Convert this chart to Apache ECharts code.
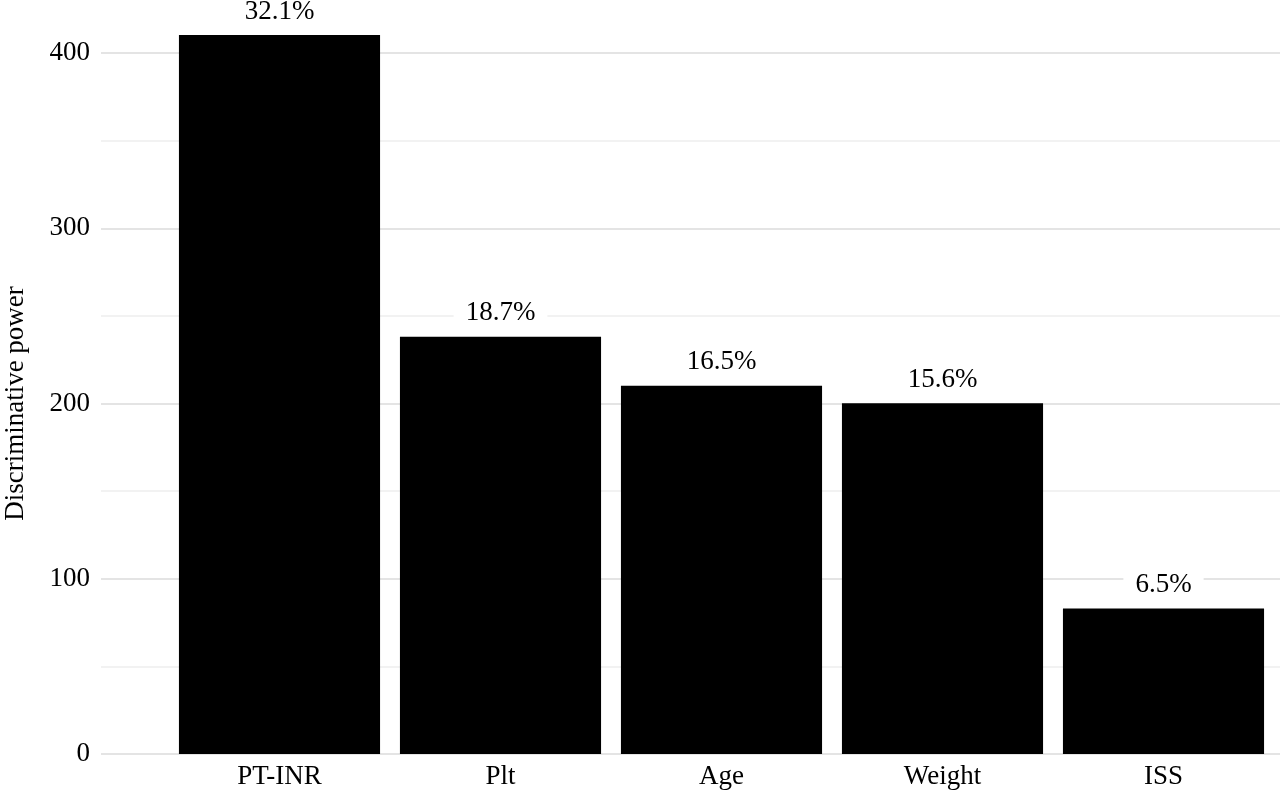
<!DOCTYPE html>
<html>
<head>
<meta charset="utf-8">
<script src="https://cdn.jsdelivr.net/npm/echarts@6/dist/echarts.min.js"></script>
<style>
html,body{margin:0;padding:0;background:#fff;}
#chart{width:1280px;height:793px;}
</style>
</head>
<body>
<div id="chart"></div>
<script>
const categories = ['PT-INR', 'Plt', 'Age', 'Weight', 'ISS'];
const values = [410, 238, 210, 200, 83];
const percentLabels = ['32.1%', '18.7%', '16.5%', '15.6%', '6.5%'];
const yTicks = [0, 100, 200, 300, 400];

const FONT = '"Liberation Serif", "Times New Roman", serif';
const chart = echarts.init(document.getElementById('chart'));
chart.setOption({
  animation: false,
  backgroundColor: '#fff',
  grid: [
    { left: 101, right: 0, top: 53, bottom: 39, outerBoundsMode: 'none', containLabel: false },
    { left: 169, right: 6, top: 0, bottom: 39, outerBoundsMode: 'none', containLabel: false }
  ],
  xAxis: [
    { gridIndex: 0, type: 'value', show: false, min: 0, max: 1 },
    {
      gridIndex: 1, type: 'category', data: categories,
      axisLine: { show: false }, axisTick: { show: false },
      axisLabel: { color: '#000', fontFamily: FONT, fontSize: 27, margin: 9 }
    }
  ],
  yAxis: [
    {
      gridIndex: 0, type: 'value', min: yTicks[0], max: yTicks[yTicks.length - 1], interval: 100,
      name: 'Discriminative power', nameLocation: 'middle', nameGap: 72,
      nameTextStyle: { color: '#000', fontFamily: FONT, fontSize: 27 },
      axisLine: { show: false }, axisTick: { show: false },
      axisLabel: { color: '#000', fontFamily: FONT, fontSize: 27, margin: 11 },
      splitLine: { show: true, lineStyle: { color: '#e4e4e4', width: 2 } },
      minorTick: { show: false, splitNumber: 2 },
      minorSplitLine: { show: true, lineStyle: { color: '#f2f2f2', width: 2 } }
    },
    {
      gridIndex: 1, type: 'value', min: 0, max: 430, show: false,
      splitLine: { show: false }
    }
  ],
  series: [{
    type: 'bar',
    xAxisIndex: 1, yAxisIndex: 1,
    data: values,
    barCategoryGap: '9%',
    itemStyle: { color: '#000' },
    label: {
      show: true, position: 'top', distance: 8,
      formatter: p => percentLabels[p.dataIndex],
      color: '#000', fontFamily: FONT, fontSize: 27,
      backgroundColor: '#fff', padding: [2, 12]
    }
  }]
});
</script>
</body>
</html>
